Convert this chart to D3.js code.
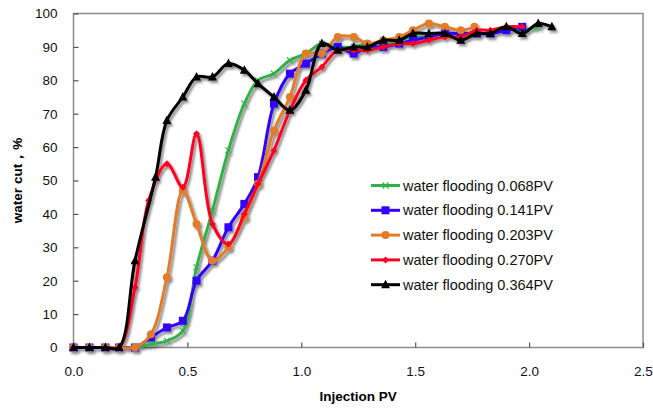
<!DOCTYPE html>
<html>
<head>
<meta charset="utf-8">
<script src="https://cdn.jsdelivr.net/npm/d3@7"></script>
<style>
  body { margin: 0; background: #fff; }
  text { font-family: 'Liberation Sans', Arial, sans-serif; }
</style>
</head>
<body>
<script>
var WIDTH = 653, HEIGHT = 409;

// data
var pvGreen = [0, 0.07, 0.14, 0.20, 0.27, 0.34, 0.41, 0.48, 0.54, 0.61, 0.68, 0.75, 0.81, 0.88, 0.95, 1.02, 1.09, 1.16, 1.23, 1.29, 1.36, 1.43, 1.49, 1.56, 1.63, 1.70, 1.77, 1.83, 1.90, 1.97, 2.04];
var wcGreen = [0, 0, 0, 0, 0, 1, 2, 5, 24, 41, 59, 73, 80, 82, 86, 88, 91, 90, 90, 91, 91, 92, 93, 93, 94, 93, 94, 94, 95, 95, 96];

var pvBlue = [0, 0.07, 0.14, 0.20, 0.27, 0.34, 0.41, 0.48, 0.54, 0.61, 0.68, 0.75, 0.81, 0.88, 0.95, 1.02, 1.09, 1.16, 1.23, 1.29, 1.36, 1.43, 1.49, 1.56, 1.63, 1.70, 1.77, 1.83, 1.90, 1.97];
var wcBlue = [0, 0, 0, 0, 0, 3, 6, 8, 20, 26, 36, 43, 51, 73, 82, 85, 88, 90, 88, 90, 90, 91, 92, 93, 94, 94, 94, 94, 95, 96];

var pvOrange = [0, 0.07, 0.14, 0.20, 0.27, 0.34, 0.41, 0.48, 0.54, 0.61, 0.68, 0.75, 0.81, 0.88, 0.95, 1.02, 1.09, 1.16, 1.23, 1.29, 1.36, 1.43, 1.49, 1.56, 1.63, 1.70, 1.76];
var wcOrange = [0, 0, 0, 0, 0, 4, 21, 47, 37, 26, 30, 39, 49, 65, 75, 88, 88, 93, 93, 91, 92, 93, 95, 97, 96, 95, 96];

var pvRed = [0, 0.07, 0.14, 0.20, 0.27, 0.33, 0.41, 0.48, 0.54, 0.61, 0.68, 0.75, 0.81, 0.88, 0.95, 1.02, 1.09, 1.16, 1.23, 1.29, 1.36, 1.43, 1.49, 1.56, 1.63, 1.70, 1.77, 1.83, 1.90, 1.97];
var wcRed = [0, 0, 0, 0, 18, 44, 55, 48, 64, 37, 31, 40, 49, 59, 71, 80, 84, 89, 89, 89, 90, 91, 91, 92, 93, 93, 95, 95, 96, 96];

var pvBlack = [0, 0.07, 0.14, 0.20, 0.27, 0.36, 0.41, 0.48, 0.54, 0.61, 0.68, 0.75, 0.81, 0.88, 0.95, 1.02, 1.09, 1.16, 1.23, 1.29, 1.36, 1.43, 1.49, 1.56, 1.63, 1.70, 1.77, 1.83, 1.90, 1.97, 2.04, 2.10];
var wcBlack = [0, 0, 0, 0, 26, 51, 68, 75, 81, 81, 85, 83, 79, 75, 71, 77, 91, 89, 90, 90, 92, 92, 94, 94, 94, 92, 94, 94, 96, 94, 97, 96];

var seriesNames = ['water flooding 0.068PV', 'water flooding 0.141PV', 'water flooding 0.203PV', 'water flooding 0.270PV', 'water flooding 0.364PV'];
var xTicks = [0, 0.5, 1.0, 1.5, 2.0, 2.5];
var yTicks = [0, 10, 20, 30, 40, 50, 60, 70, 80, 90, 100];

var series = [
    { name: seriesNames[0], pv: pvGreen, wc: wcGreen, color: '#34b04a', marker: 'cross' },
    { name: seriesNames[1], pv: pvBlue, wc: wcBlue, color: '#3300ff', marker: 'square' },
    { name: seriesNames[2], pv: pvOrange, wc: wcOrange, color: '#e07b2a', marker: 'circle' },
    { name: seriesNames[3], pv: pvRed, wc: wcRed, color: '#ff0022', marker: 'diamond' },
    { name: seriesNames[4], pv: pvBlack, wc: wcBlack, color: '#000000', marker: 'triangle' }
];

var X0 = 73.5, X1 = 643, Y0 = 347.5, Y1 = 13.5;

var x = d3.scaleLinear().domain([0, 2.5]).range([X0, X1]);
var y = d3.scaleLinear().domain([0, 100]).range([Y0, Y1]);

var svg = d3.select('body').append('svg').attr('width', WIDTH).attr('height', HEIGHT);

var defs = svg.append('defs');
defs.append('filter').attr('id', 'shadow')
    .attr('x', '-20%').attr('y', '-20%').attr('width', '140%').attr('height', '140%')
    .append('feDropShadow')
    .attr('dx', 2).attr('dy', 2.5).attr('stdDeviation', 1.3)
    .attr('flood-color', '#000').attr('flood-opacity', 0.45);

// frame
svg.append('rect')
    .attr('x', X0).attr('y', Y1)
    .attr('width', X1 - X0).attr('height', Y0 - Y1)
    .attr('fill', 'none').attr('stroke', '#8c8c8c').attr('stroke-width', 1.5);

// y axis ticks (inside)
svg.append('g')
    .attr('transform', 'translate(' + X0 + ',0)')
    .call(d3.axisRight(y).tickValues(yTicks).tickSize(5).tickFormat(''))
    .call(g => g.select('.domain').remove())
    .call(g => g.selectAll('line').attr('stroke', '#555').attr('stroke-width', 1.2));

svg.append('g')
    .attr('transform', 'translate(' + X0 + ',0)')
    .call(d3.axisLeft(y).tickValues(yTicks).tickSize(0).tickPadding(16).tickFormat(d3.format('d')))
    .call(g => g.select('.domain').remove())
    .call(g => g.selectAll('text').attr('font-size', 13.5).attr('fill', '#111')
        .style('font-family', "'Liberation Sans', Arial, sans-serif"));

// x axis
svg.append('g')
    .attr('transform', 'translate(0,' + Y0 + ')')
    .call(d3.axisTop(x).tickValues(xTicks).tickSize(5).tickFormat(''))
    .call(g => g.select('.domain').remove())
    .call(g => g.selectAll('line').attr('stroke', '#555').attr('stroke-width', 1.2));

svg.append('g')
    .attr('transform', 'translate(0,' + Y0 + ')')
    .call(d3.axisBottom(x).tickValues(xTicks).tickSize(0).tickPadding(19).tickFormat(d3.format('.1f')))
    .call(g => g.select('.domain').remove())
    .call(g => g.selectAll('text').attr('font-size', 13.5).attr('fill', '#111')
        .style('font-family', "'Liberation Sans', Arial, sans-serif"));

// axis titles
svg.append('text')
    .attr('x', (X0 + X1) / 2).attr('y', 401)
    .attr('text-anchor', 'middle')
    .attr('font-size', 13.5).attr('font-weight', 'bold')
    .text('Injection PV');

svg.append('text')
    .attr('transform', 'translate(22,' + ((Y0 + Y1) / 2) + ') rotate(-90)')
    .attr('text-anchor', 'middle')
    .attr('font-size', 13.5).attr('font-weight', 'bold')
    .text('water cut\uFF0C%');

var line = d3.line()
    .x(d => x(d[0]))
    .y(d => y(d[1]))
    .curve(d3.curveCatmullRom.alpha(0.5));

function drawMarker(g, type, color) {
    if (type === 'square') {
        g.append('rect').attr('x', -4).attr('y', -4).attr('width', 8).attr('height', 8).attr('fill', color);
    } else if (type === 'circle') {
        g.append('circle').attr('r', 4).attr('fill', color);
    } else if (type === 'diamond') {
        g.append('path').attr('d', 'M0,-3.5L3.5,0L0,3.5L-3.5,0Z').attr('fill', color);
    } else if (type === 'triangle') {
        g.append('path').attr('d', 'M0,-5L4.5,3.5L-4.5,3.5Z').attr('fill', color);
    } else if (type === 'cross') {
        g.append('path').attr('d', 'M-3,-3L3,3M-3,3L3,-3').attr('stroke', color).attr('stroke-width', 1.2);
    }
}

var plot = svg.append('g').attr('filter', 'url(#shadow)');

series.forEach(function (s) {
    var pts = s.pv.map((v, i) => [v, s.wc[i]]);
    var g = plot.append('g');
    g.append('path')
        .attr('d', line(pts))
        .attr('fill', 'none')
        .attr('stroke', s.color)
        .attr('stroke-width', 3)
        .attr('stroke-linejoin', 'round');
    g.selectAll('g.m').data(pts).enter().append('g')
        .attr('class', 'm')
        .attr('transform', d => 'translate(' + x(d[0]) + ',' + y(d[1]) + ')')
        .each(function () { drawMarker(d3.select(this), s.marker, s.color); });
});

// legend
var legend = svg.append('g');
series.forEach(function (s, i) {
    var ly = 185.5 + i * 24.8;
    var lg = legend.append('g');
    lg.append('line')
        .attr('x1', 371).attr('x2', 400).attr('y1', ly).attr('y2', ly)
        .attr('stroke', s.color).attr('stroke-width', 3);
    var mg = lg.append('g').attr('transform', 'translate(385.5,' + ly + ')');
    drawMarker(mg, s.marker, s.color);
    lg.append('text')
        .attr('x', 403).attr('y', ly + 5)
        .attr('font-size', 14.5).attr('fill', '#111')
        .text(s.name);
});
</script>
</body>
</html>
